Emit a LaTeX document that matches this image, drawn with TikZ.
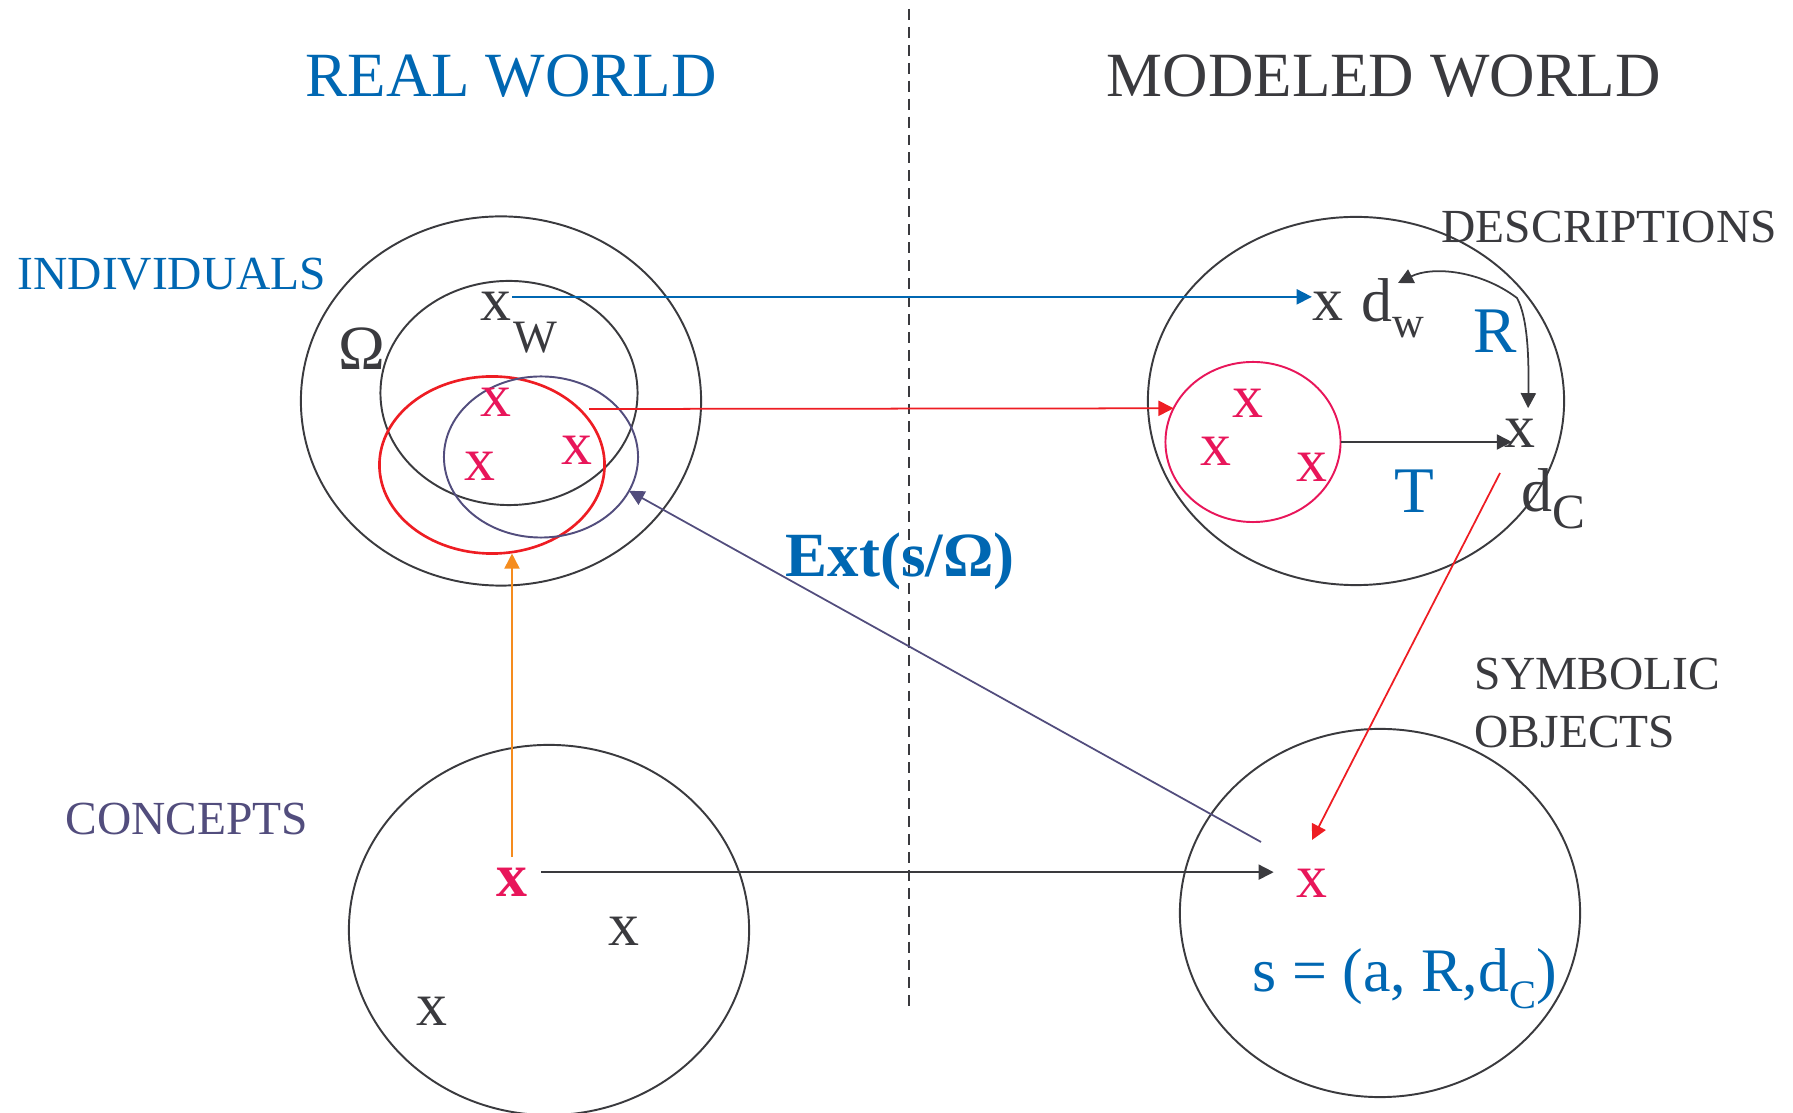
\documentclass[tikz,border=0pt]{standalone}
\usepackage{fontspec}
\setmainfont{Liberation Serif}
\usetikzlibrary{positioning, arrows.meta, shapes.geometric}

\definecolor{inkgray}{RGB}{58,58,62}
\definecolor{worldblue}{RGB}{0,103,178}
\definecolor{xcrimson}{RGB}{232,22,90}
\definecolor{arrowred}{RGB}{238,29,35}
\definecolor{slate}{RGB}{82,77,125}
\definecolor{amber}{RGB}{245,140,30}

\newcommand{\setsz}[1]{\fontsize{#1}{#1}\selectfont}
\newcommand{\lowidx}[3]{\raisebox{-#1}{\setsz{#2}#3}}

\begin{document}
\begin{tikzpicture}[
  x=0.01cm, y=-0.01cm,
  title/.style={anchor=base west, inner sep=0pt, font=\setsz{17.9pt}},
  tag/.style={anchor=base west, inner sep=0pt, font=\setsz{13.5pt}},
  sym/.style={anchor=base west, inner sep=0pt, font=\setsz{17.6pt}},
  elt/.style={inner sep=0pt, font=\setsz{17.6pt}},
  blob/.style={ellipse, draw=inkgray, line width=0.55pt, inner sep=0pt, outer sep=0pt},
  link/.style={-{Triangle[length=4.3pt, width=4.3pt]}, line width=0.5pt},
  twoway/.style={{Triangle[length=4.3pt, width=4.3pt]}-{Triangle[length=4.3pt, width=4.3pt]}, line width=0.5pt},
  divider/.style={inkgray, line width=0.5pt, dash pattern=on 3.1pt off 2pt},
]
  \useasboundingbox (0,0) rectangle (1793,1113);

  % --- headings ---
  \node[title, text=worldblue] (realhd) at (305,97) {REAL WORLD};
  \node[title, text=inkgray] (modelhd) at (1106,97) {MODELED WORLD};
  \draw[divider] (909,9) -- (909,1012);

  % --- real world: individuals ---
  \node[blob, minimum width=4cm, minimum height=3.69cm] (indiv) at (501,401) {};
  \node[blob, minimum width=2.57cm, minimum height=2.24cm] (omegaset) at (509,393) {};
  \node[blob, draw=arrowred, line width=0.75pt, minimum width=2.25cm,
        minimum height=1.77cm] (redset) at (492,465) {};
  \node[blob, draw=slate, minimum width=1.94cm, minimum height=1.61cm] (extset) at (541,457) {};
  \node[tag, text=worldblue] (indivlbl) at (17,290) {INDIVIDUALS};
  \node[sym, font=\setsz{17.9pt}, text=inkgray] (omega) at (338,370) {Ω};
  \node[elt, text=inkgray] (xw) at (496,306) {x};
  \node[sym, font=\setsz{13.2pt}, text=inkgray] (xwidx) at (513,353) {W};
  \foreach \px/\py/\n in {496/402/a, 480/466/b, 577/450/c}
    \node[elt, text=xcrimson] (ind\n) at (\px,\py) {x};
  \node[sym, font=\setsz{17.9pt}\bfseries, text=worldblue] (extlbl) at (785,577) {Ext(s/Ω)};

  % --- real world: concepts ---
  \node[blob, minimum width=4cm, minimum height=3.7cm] (concepts) at (549,930) {};
  \node[tag, text=slate] (conclbl) at (65,835) {CONCEPTS};
  \node[elt, font=\setsz{17.6pt}\bfseries, text=xcrimson] (conx) at (512,882) {x};
  \node[elt, text=inkgray] (cona) at (624,931) {x};
  \node[elt, text=inkgray] (conb) at (432,1011) {x};

  % --- modeled world: descriptions ---
  \node[blob, minimum width=4.16cm, minimum height=3.68cm] (descr) at (1356,401) {};
  \node[blob, draw=xcrimson, minimum width=1.75cm, minimum height=1.6cm] (descset) at (1253,442) {};
  \node[tag, text=inkgray] (desclbl) at (1441,243) {DESCRIPTIONS};
  \node[elt, text=inkgray] (xd) at (1328,306) {x};
  \node[sym, text=inkgray] (dw) at (1361,322) {d\lowidx{4.3pt}{12.5pt}{w}};
  \node[elt, text=inkgray] (xc) at (1520,433) {x};
  \node[sym, text=inkgray] (dc) at (1521,512) {d\lowidx{4.6pt}{14pt}{C}};
  \node[sym, font=\setsz{18.5pt}, text=worldblue] (rlbl) at (1473,353) {R};
  \node[sym, font=\setsz{18.5pt}, text=worldblue] (tlbl) at (1394,513) {T};
  \foreach \px/\py/\n in {1248/403/a, 1216/451/b, 1312/467/c}
    \node[elt, text=xcrimson] (desc\n) at (\px,\py) {x};

  % --- modeled world: symbolic objects ---
  \node[blob, minimum width=4cm, minimum height=3.68cm] (symb) at (1380,913) {};
  \node[tag, text=inkgray] (symblbl) at (1474,690) {SYMBOLIC};
  \node[tag, text=inkgray] (objlbl) at (1474,748) {OBJECTS};
  \node[elt, text=xcrimson] (symx) at (1312,883) {x};
  \node[sym, text=worldblue] (sdef) at (1252,992) {s = (a, R,d\lowidx{4.6pt}{11.5pt}{C})};

  % --- mappings ---
  \coordinate (redout) at (589,409);
  \coordinate (rtip) at (1398,283);
  \coordinate (redfrom) at (1500,473);
  \coordinate (extfrom) at (1261,842);

  \draw[link, worldblue] ([yshift=2.6pt]xw.east) -- ([yshift=2.6pt]xw.east -| xd.west);
  \draw[link, arrowred] (redout) -- (descset.157);
  \draw[link, inkgray, shorten >=-2.3pt] (descset.east) -- (descset.east -| xc.west);
  \draw[twoway, inkgray] (rtip) .. controls (1432,266) and (1480,270) .. (1517,298)
    .. controls (1528,318) and (1529,360) .. ([xshift=2.3pt, yshift=2.8pt]xc.north);
  \draw[link, arrowred] (redfrom) -- ([yshift=8pt]symx.north);
  \draw[link, slate] (extfrom) -- (extset.-21);
  \draw[link, inkgray, shorten <=3.7pt, shorten >=6.3pt]
    ([yshift=2.8pt]conx.east) -- ([yshift=2.8pt]conx.east -| symx.west);
  \draw[link, amber, shorten <=2.8pt] (conx.north) -- (conx.north |- redset.south);
\end{tikzpicture}
\end{document}
